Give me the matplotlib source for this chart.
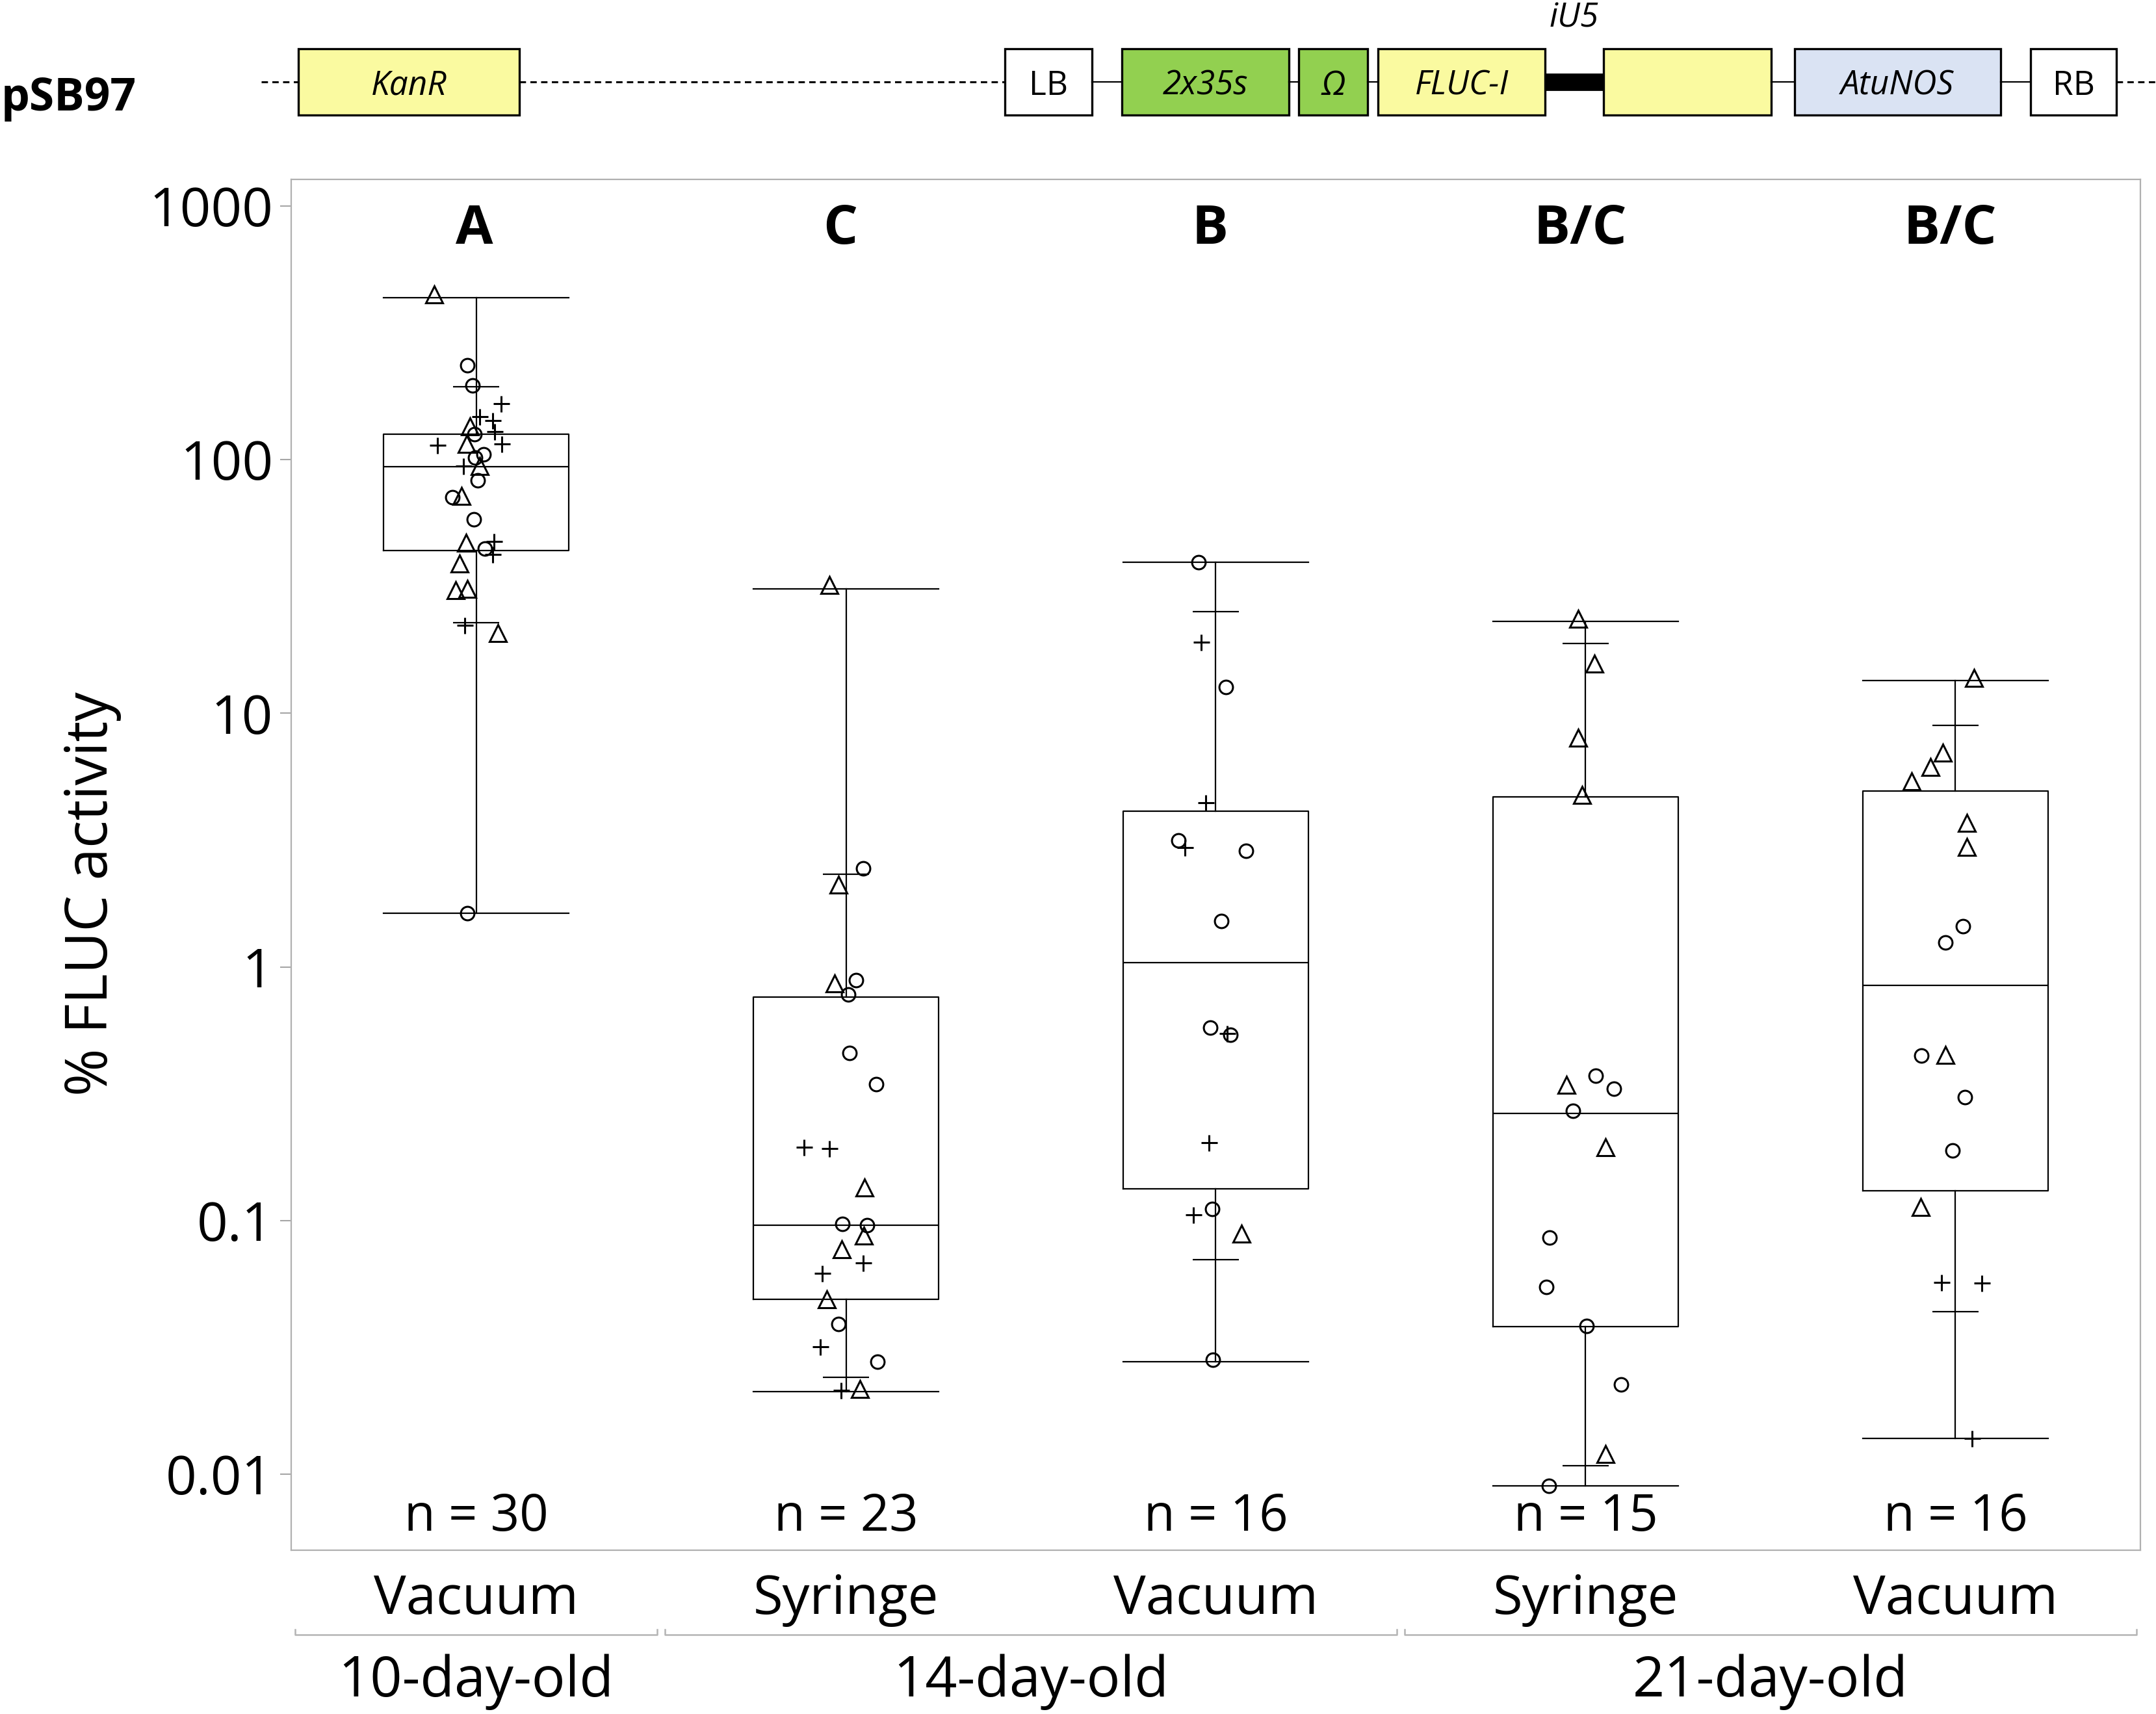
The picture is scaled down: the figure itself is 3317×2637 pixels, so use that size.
import numpy as np
import matplotlib.pyplot as plt
from matplotlib.patches import Rectangle

plt.rcParams['font.family'] = ['Open Sans', 'DejaVu Sans']

# ---- values ----
methods = ['Vacuum', 'Syringe', 'Vacuum', 'Syringe', 'Vacuum']
ages = ['10-day-old', '14-day-old', '21-day-old']
age_groups = [(0, 0), (1, 2), (3, 4)]
letters = ['A', 'C', 'B', 'B/C', 'B/C']
n_obs = [30, 23, 16, 15, 16]

# box summary: whisker low, 10th pct, Q1, median, Q3, 90th pct, whisker high
w_lo = [1.63, 0.0211, 0.0278, 0.0090, 0.0138]
p10 = [22.7, 0.0241, 0.070, 0.0108, 0.0438]
q1 = [43.7, 0.0489, 0.133, 0.0382, 0.131]
med = [94, 0.096, 1.04, 0.265, 0.843]
q3 = [126, 0.76, 4.11, 4.69, 4.94]
p90 = [194, 2.32, 25.2, 18.8, 8.95]
w_hi = [436, 31, 39.4, 23, 13.5]

# individual points: value, symbol (o / ^ / +), horizontal jitter
g1_val = [448, 235, 196, 166, 148, 143, 135, 129, 126, 114, 115, 115, 105, 102, 94.6,
          94.6, 83, 71, 71.8, 58, 47, 47.7, 44.7, 42.3, 39, 30.5, 30.9, 22.2, 20.7, 1.63]
g1_sym = '^oo+++^+o+^+oo+^oo^o^+o+^^^+^o'
g1_dx = [-0.113, -0.024, -0.010, 0.068, 0.010, 0.045, -0.017, 0.050, -0.004, -0.105,
         -0.026, 0.069, 0.020, -0.003, -0.035, 0.010, 0.005, -0.065, -0.040, -0.006,
         -0.027, 0.048, 0.024, 0.045, -0.044, -0.055, -0.024, -0.031, 0.059, -0.024]

g2_val = [32, 2.45, 2.11, 0.863, 0.887, 0.778, 0.459, 0.345, 0.195, 0.192, 0.135, 0.097,
          0.096, 0.087, 0.077, 0.068, 0.062, 0.049, 0.039, 0.0317, 0.0278, 0.0214, 0.0217]
g2_sym = '^o^^oooo++^oo^^++^o+o+^'
g2_dx = [-0.045, 0.047, -0.021, -0.031, 0.027, 0.006, 0.010, 0.081, -0.114, -0.044,
         0.050, -0.010, 0.057, 0.048, -0.012, 0.047, -0.064, -0.051, -0.020, -0.069,
         0.085, -0.014, 0.038]

g3_val = [39.4, 19.1, 12.7, 4.43, 3.16, 2.95, 2.87, 1.52, 0.575, 0.547, 0.54, 0.203,
          0.105, 0.111, 0.0887, 0.0282]
g3_sym = 'o+o+o+ooo+o++o^o'
g3_dx = [-0.046, -0.040, 0.027, -0.028, -0.101, -0.084, 0.081, 0.015, -0.015, 0.031,
         0.040, -0.019, -0.060, -0.010, 0.070, -0.008]

g4_val = [23.6, 15.7, 8.02, 4.76, 0.373, 0.342, 0.331, 0.271, 0.194, 0.0855, 0.0546,
          0.0384, 0.0226, 0.0120, 0.0090]
g4_sym = '^^^^o^oo^oooo^o'
g4_dx = [-0.020, 0.024, -0.021, -0.009, 0.028, -0.051, 0.077, -0.034, 0.053, -0.098,
         -0.107, 0.003, 0.095, 0.053, -0.099]

g5_val = [13.8, 6.98, 6.15, 5.39, 3.70, 2.97, 1.45, 1.25, 0.447, 0.449, 0.307, 0.189,
          0.113, 0.0571, 0.0565, 0.0138]
g5_sym = '^^^^^^ooo^oo^+++'
g5_dx = [0.050, -0.034, -0.068, -0.118, 0.031, 0.031, 0.021, -0.028, -0.092, -0.028,
         0.025, -0.008, -0.094, -0.038, 0.071, 0.045]

yticks = [0.01, 0.1, 1, 10, 100, 1000]
ytick_labels = ['0.01', '0.1', '1', '10', '100', '1000']

# construct map on top (pixel layout)
parts = [('KanR', 459, 799, '#fafaa0', 'italic'),
         ('LB', 1546, 1680, 'white', 'normal'),
         ('2x35s', 1726, 1983, '#92d050', 'italic'),
         ('Ω', 1998, 2104, '#92d050', 'italic'),
         ('FLUC-I', 2120, 2377, '#fafaa0', 'italic'),
         ('', 2467, 2725, '#fafaa0', 'normal'),
         ('AtuNOS', 2761, 3078, '#dae3f3', 'italic'),
         ('RB', 3124, 3256, 'white', 'normal')]
dashed_links = [(402, 459), (799, 1546), (3256, 3317)]
solid_links = [(1680, 1726), (1983, 1998), (2104, 2120), (2725, 2761), (3078, 3124)]

W, H = 3317, 2637
fig = plt.figure(figsize=(W / 200, H / 200), dpi=200)

# ---- construct diagram ----
ov = fig.add_axes([0, 0, 1, 1])
ov.set_xlim(0, W)
ov.set_ylim(H, 0)
ov.set_axis_off()
yc, bh = 126, 102
for x0, x1 in dashed_links:
    ov.plot([x0, x1], [yc, yc], color='black', lw=1.1, dashes=(3.2, 2.2))
for x0, x1 in solid_links:
    ov.plot([x0, x1], [yc, yc], color='black', lw=0.8)
ov.add_patch(Rectangle((2377, yc - 12), 90, 24, color='black'))
for name, x0, x1, fc, style in parts:
    ov.add_patch(Rectangle((x0, yc - bh / 2), x1 - x0, bh, facecolor=fc,
                           edgecolor='black', lw=1.2))
    ov.text((x0 + x1) / 2, 146, name, ha='center', va='baseline',
            fontsize=18.5, style=style)
ov.text(2422, 42, 'iU5', ha='center', va='baseline', fontsize=18.5, style='italic')
ov.text(2, 170, 'pSB97', ha='left', va='baseline', fontsize=25, fontweight='bold')

# ---- box plot ----
ax = fig.add_axes([448 / W, 1 - 2385 / H, (3293 - 448) / W, (2385 - 276) / H])
ax.set_yscale('log')

stats = []
for i in range(len(methods)):
    stats.append(dict(med=med[i], q1=q1[i], q3=q3[i], whislo=w_lo[i],
                      whishi=w_hi[i], fliers=[]))
line = dict(color='black', lw=0.8)
ax.bxp(stats, positions=range(len(methods)), widths=0.5, capwidths=0.5,
       showfliers=False, boxprops=line, whiskerprops=line, capprops=line,
       medianprops=line)
ax.hlines(p10, np.arange(5) - 0.0625, np.arange(5) + 0.0625, color='black', lw=0.8)
ax.hlines(p90, np.arange(5) - 0.0625, np.arange(5) + 0.0625, color='black', lw=0.8)

sizes = {'o': 7.5, '^': 9.5, '+': 9}
groups = [(g1_val, g1_sym, g1_dx), (g2_val, g2_sym, g2_dx), (g3_val, g3_sym, g3_dx),
          (g4_val, g4_sym, g4_dx), (g5_val, g5_sym, g5_dx)]
for i, (vals, syms, dx) in enumerate(groups):
    vals = np.array(vals)
    dx = np.array(dx)
    syms = np.array(list(syms))
    for m in 'o^+':
        sel = syms == m
        ax.plot(i + dx[sel], vals[sel], linestyle='none', marker=m, ms=sizes[m],
                mfc='none', mec='black', mew=1.1, zorder=3)

ax.set_xlim(-0.5, 4.5)
ax.set_ylim(10 ** -2.3, 10 ** 3.105)
ax.set_yticks(yticks)
ax.set_yticklabels(ytick_labels)
ax.minorticks_off()
ax.set_xticks([])
ax.tick_params(axis='y', labelsize=30, length=6, width=0.75, color='#a6a6a6', pad=4)
for sp in ax.spines.values():
    sp.set_color('#b0b0b0')
    sp.set_linewidth(0.8)

tr = ax.get_xaxis_transform()
for i in range(len(methods)):
    shift = -0.004 if i == 0 else -0.015
    ax.text(i + shift, 0.953, letters[i], transform=tr, ha='center', va='baseline',
            fontsize=30, fontweight='bold')
    ax.text(i, 0.0142, f'n = {n_obs[i]}', transform=tr, ha='center', va='baseline',
            fontsize=28)
    ax.text(i, -0.0465, methods[i], transform=tr, ha='center', va='baseline',
            fontsize=30, clip_on=False)
for (a, b), lab in zip(age_groups, ages):
    x0, x1 = a - 0.49, b + 0.49
    ax.plot([x0, x0, x1, x1], [-0.058, -0.0616, -0.0616, -0.058], transform=tr,
            color='#b4b4b4', lw=0.9, clip_on=False)
    ax.text((a + b) / 2, -0.1067, lab, transform=tr, ha='center', va='baseline',
            fontsize=31, clip_on=False)

fig.text(142 / W, 1 - 1375 / H, '% FLUC activity', rotation=90, ha='center',
         va='center', fontsize=32)

fig.savefig('out.png', dpi=200)
